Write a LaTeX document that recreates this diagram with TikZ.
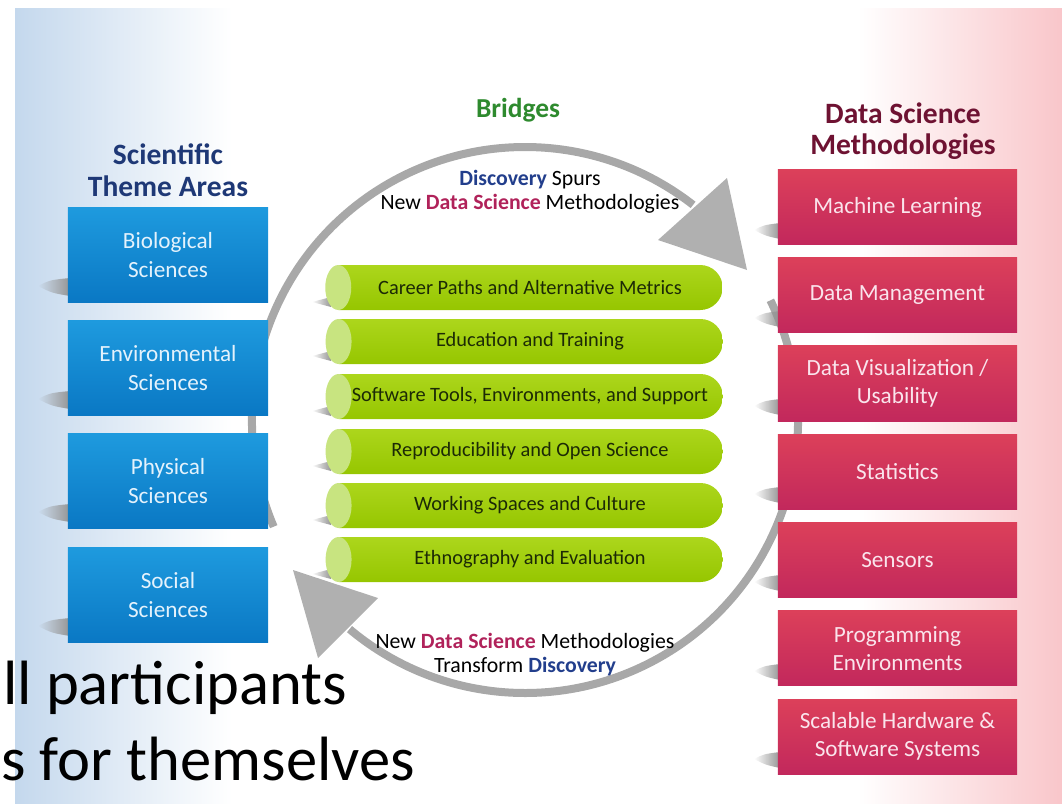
\documentclass[tikz,border=0pt]{standalone}
\usepackage{fontspec}
\setmainfont{Carlito}
\usetikzlibrary{shapes.misc,fadings}

\definecolor{bandblue}{RGB}{196,216,237}
\definecolor{bandpink}{RGB}{249,198,202}
\definecolor{themetop}{RGB}{30,154,222}
\definecolor{themebot}{RGB}{10,120,196}
\definecolor{themetext}{RGB}{228,242,252}
\definecolor{methtop}{RGB}{220,64,90}
\definecolor{methbot}{RGB}{194,40,92}
\definecolor{methtext}{RGB}{250,228,236}
\definecolor{bartop}{RGB}{172,214,28}
\definecolor{barbot}{RGB}{150,198,0}
\definecolor{barcap}{RGB}{200,228,128}
\definecolor{bartext}{RGB}{28,42,6}
\definecolor{arcgray}{RGB}{168,168,168}
\definecolor{headgray}{RGB}{176,176,176}
\definecolor{themenavy}{RGB}{30,56,118}
\definecolor{methmaroon}{RGB}{110,18,50}
\definecolor{bridgegreen}{RGB}{46,138,46}
\definecolor{discblue}{RGB}{34,62,140}
\definecolor{dsred}{RGB}{176,34,90}

\tikzfading[name=fade in right, left color=transparent!100, right color=transparent!0]

\begin{document}
\begin{tikzpicture}[x=0.025cm, y=-0.025cm,
    theme/.style={rectangle, minimum width=5cm, minimum height=2.35cm,
      top color=themetop, bottom color=themebot, text=themetext,
      align=center, font=\fontsize{16.5}{20}\selectfont},
    method/.style={rectangle, minimum width=5.975cm, minimum height=1.875cm,
      top color=methtop, bottom color=methbot, text=methtext,
      align=center, font=\fontsize{16.5}{20}\selectfont},
    bridge/.style={rounded rectangle, rounded rectangle west arc=none,
      minimum width=9.6cm, minimum height=1.125cm, inner sep=0pt,
      top color=bartop, bottom color=barbot, text=bartext,
      font=\fontsize{14.5}{17}\selectfont},
    bridgecap/.style={fill=barcap},
    dropshade/.style={fill=black!42, path fading=fade in right},
    cyclearc/.style={draw=arcgray, line width=0.2cm},
    cyclehead/.style={fill=headgray},
    heading/.style={align=center, font=\bfseries\fontsize{21}{22.5}\selectfont},
    arctext/.style={align=center, font=\fontsize{15.5}{17}\selectfont}]

  \useasboundingbox (0,0) rectangle (1062,803);

  % side bands
  \shade[left color=bandblue, middle color=bandblue!80, right color=white] (15,8) rectangle (232,803);
  \shade[left color=white, middle color=bandpink!55, right color=bandpink] (858,8) rectangle (1062,803);

  % the cycle
  \coordinate (hub) at (525,420);
  \draw[cyclearc] ([shift={(157:273)}]hub) arc[start angle=157, end angle=308, radius=273];
  \fill[cyclehead] (727,178) -- (747,270) -- (658,240) -- cycle;
  \draw[cyclearc] ([shift={(334:273)}]hub) arc[start angle=334, end angle=490, radius=273];
  \fill[cyclehead] (293,570) -- (378,598) -- (318,658) -- cycle;

  % shadows
  \fill[dropshade] (38,286) .. controls (50,280) .. (70,278) -- (70,296) .. controls (52,293) .. cycle;
  \fill[dropshade] (38,399) .. controls (50,393) .. (70,391) -- (70,409) .. controls (52,406) .. cycle;
  \fill[dropshade] (38,512) .. controls (50,506) .. (70,504) -- (70,522) .. controls (52,519) .. cycle;
  \fill[dropshade] (38,626) .. controls (50,620) .. (70,618) -- (70,636) .. controls (52,633) .. cycle;
  \fill[dropshade] (754,230) .. controls (764,225) .. (780,223) -- (780,239) .. controls (766,236) .. cycle;
  \fill[dropshade] (754,318) .. controls (764,313) .. (780,311) -- (780,327) .. controls (766,324) .. cycle;
  \fill[dropshade] (754,406) .. controls (764,401) .. (780,399) -- (780,415) .. controls (766,412) .. cycle;
  \fill[dropshade] (754,494) .. controls (764,489) .. (780,487) -- (780,503) .. controls (766,500) .. cycle;
  \fill[dropshade] (754,582) .. controls (764,577) .. (780,575) -- (780,591) .. controls (766,588) .. cycle;
  \fill[dropshade] (754,671) .. controls (764,666) .. (780,664) -- (780,680) .. controls (766,677) .. cycle;
  \fill[dropshade] (754,759) .. controls (764,754) .. (780,752) -- (780,768) .. controls (766,765) .. cycle;
  \fill[dropshade] (312,302) -- (331,297) -- (331,307) -- cycle;
  \fill[dropshade] (312,356) -- (331,351) -- (331,361) -- cycle;
  \fill[dropshade] (312,411) -- (331,406) -- (331,416) -- cycle;
  \fill[dropshade] (312,466) -- (331,461) -- (331,471) -- cycle;
  \fill[dropshade] (312,520) -- (331,515) -- (331,525) -- cycle;
  \fill[dropshade] (312,574) -- (331,569) -- (331,579) -- cycle;

  % headings
  \node[heading, text=themenavy] (themetitle) at (168,170) {Scientific\\Theme Areas};
  \node[heading, text=methmaroon] (methtitle) at (903,131) {Data Science\\Methodologies};
  \node[heading, text=bridgegreen, font=\bfseries\fontsize{19.5}{22}\selectfont] (bridgetitle) at (518,110) {Bridges};

  % theme areas
  \node[theme] (bio) at (168,255) {Biological\\Sciences};
  \node[theme] (env) at (168,368) {Environmental\\Sciences};
  \node[theme] (phys) at (168,481) {Physical\\Sciences};
  \node[theme] (soc) at (168,595) {Social\\Sciences};

  % methodologies
  \node[method] (ml) at (897.5,207) {Machine Learning};
  \node[method] (dm) at (897.5,295.25) {Data Management};
  \node[method] (dv) at (897.5,383.5) {Data Visualization /\\Usability};
  \node[method] (stat) at (897.5,471.75) {Statistics};
  \node[method] (sens) at (897.5,560) {Sensors};
  \node[method] (prog) at (897.5,648.25) {Programming\\Environments};
  \node[method] (hw) at (897.5,736.5) {Scalable Hardware \&\\Software Systems};

  % bridges
  \node[bridge] (career) at (530,287.5) {Career Paths and Alternative Metrics};
  \node[bridge] (edu) at (530,341.5) {Education and Training};
  \node[bridge] (soft) at (530,396.5) {Software Tools, Environments, and Support};
  \node[bridge] (repro) at (530,451.5) {Reproducibility and Open Science};
  \node[bridge] (work) at (530,505.5) {Working Spaces and Culture};
  \node[bridge] (ethno) at (530,559.5) {Ethnography and Evaluation};
  \fill[bridgecap] (career.west) ellipse[x radius=0.325cm, y radius=0.5625cm];
  \fill[bridgecap] (edu.west) ellipse[x radius=0.325cm, y radius=0.5625cm];
  \fill[bridgecap] (soft.west) ellipse[x radius=0.325cm, y radius=0.5625cm];
  \fill[bridgecap] (repro.west) ellipse[x radius=0.325cm, y radius=0.5625cm];
  \fill[bridgecap] (work.west) ellipse[x radius=0.325cm, y radius=0.5625cm];
  \fill[bridgecap] (ethno.west) ellipse[x radius=0.325cm, y radius=0.5625cm];

  % labels on the cycle
  \node[arctext] (spurs) at (530,192) {\textcolor{discblue}{\textbf{Discovery}} Spurs\\New \textcolor{dsred}{\textbf{Data Science}} Methodologies};
  \node[arctext] (transform) at (525,655) {New \textcolor{dsred}{\textbf{Data Science}} Methodologies\\Transform \textcolor{discblue}{\textbf{Discovery}}};

  % slide text
  \node[anchor=base west, inner sep=0pt, font=\fontsize{44.5}{52}\selectfont] (lineone) at (3,704) {ll participants};
  \node[anchor=base west, inner sep=0pt, font=\fontsize{44.5}{52}\selectfont] (linetwo) at (1,780) {s for themselves};
\end{tikzpicture}
\end{document}
